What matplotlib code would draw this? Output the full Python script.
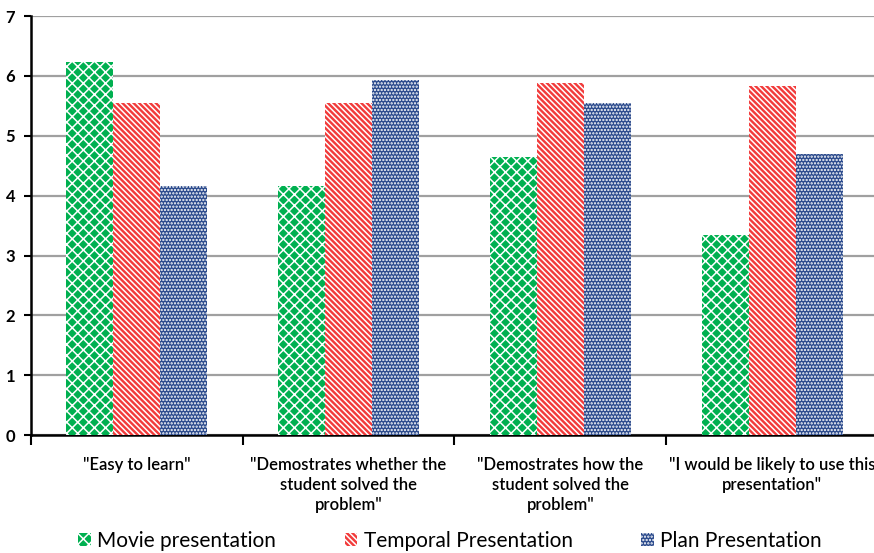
import numpy as np
import matplotlib.pyplot as plt
from matplotlib.patches import Patch

plt.rcParams['font.family'] = ['Lato', 'DejaVu Sans']
plt.rcParams['hatch.linewidth'] = 1.1

# Survey answers (mean rating) per statement
categories = ['"Easy to learn"',
              '"Demostrates whether the\nstudent solved the\nproblem"',
              '"Demostrates how the\nstudent solved the\nproblem"',
              '"I would be likely to use this\npresentation"']
movie = [6.23, 4.17, 4.64, 3.35]
temporal = [5.54, 5.54, 5.88, 5.83]
plan = [4.17, 5.94, 5.54, 4.69]

series_names = ['Movie presentation', 'Temporal Presentation', 'Plan Presentation']
colors = ['#00B050', '#F23B3B', '#2B4A8C']
hatches = ['xxx', '\\\\\\\\\\\\', '.....']

fig = plt.figure(figsize=(8.74, 5.53), dpi=100)
ax = fig.add_axes([0.035, 0.213, 0.97, 0.758])

x = np.arange(len(categories))
w = 0.223
for i, (vals, c, h) in enumerate(zip([movie, temporal, plan], colors, hatches)):
    ax.bar(x + (i - 1) * w, vals, w, color=c, edgecolor='white', hatch=h,
           linewidth=0, zorder=3)

ax.set_ylim(0, 7)
ax.set_xlim(-0.5, len(categories) - 0.5)
ax.set_yticks(range(8))
ax.yaxis.grid(True, color='#A0A0A0', linewidth=1.6, zorder=0)
ax.tick_params(axis='y', labelsize=12, length=5, width=1.5, pad=6)
for t in ax.get_yticklabels():
    t.set_fontweight('bold')

ax.set_xticks(x)
ax.set_xticklabels(categories, fontsize=12, linespacing=1.3, fontweight='semibold')
ax.set_xticks(np.arange(-0.5, len(categories)), minor=True)
ax.tick_params(axis='x', which='major', length=0, pad=16)
ax.tick_params(axis='x', which='minor', length=7, width=1.5)

for s in ['top', 'right']:
    ax.spines[s].set_visible(False)
for s in ['left', 'bottom']:
    ax.spines[s].set_linewidth(1.8)

handles = [Patch(facecolor=c, edgecolor='white', hatch=h, linewidth=0)
           for c, h in zip(colors, hatches)]
fig.legend(handles, series_names, loc='center', bbox_to_anchor=(0.515, 0.022),
           ncol=3, frameon=False, fontsize=15, handlelength=0.6, handleheight=0.6,
           handletextpad=0.3, columnspacing=3.3)

fig.savefig('out.png', dpi=100)
